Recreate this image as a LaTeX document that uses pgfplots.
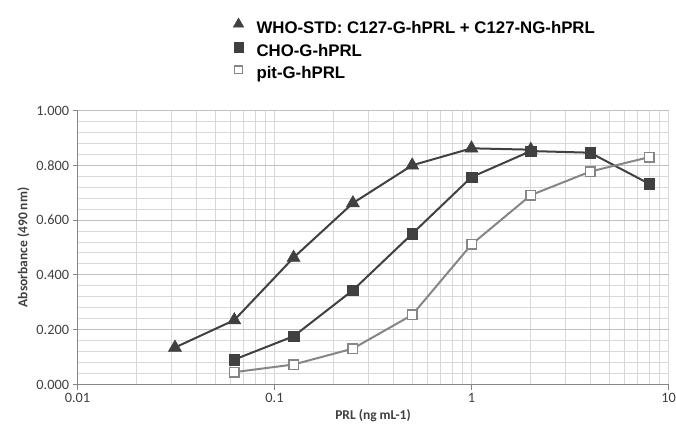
\documentclass[border=0pt]{standalone}
\usepackage{fontspec}
\setmainfont{Carlito}
\newfontfamily\legendfont{Liberation Sans}
\usepackage{pgfplots}
\pgfplotsset{compat=1.18}

\definecolor{darkser}{RGB}{64,64,64}
\definecolor{lightser}{RGB}{134,134,134}
\definecolor{gridmin}{RGB}{217,217,217}
\definecolor{gridmaj}{RGB}{192,192,192}
\definecolor{axisgray}{RGB}{134,134,134}
\definecolor{labelgray}{RGB}{64,64,64}

\begin{document}
\begin{tikzpicture}
\path[use as bounding box] (0,0) rectangle (676pt,431pt);
\begin{axis}[
    at={(77.5pt,46.5pt)}, anchor=south west,
    scale only axis, width=591pt, height=274pt,
    xmode=log, xmin=0.01, xmax=10, ymin=0, ymax=1,
    xtick={0.01,0.1,1,10}, xticklabels={0.01,0.1,1,10},
    ytick={0,0.2,0.4,0.6,0.8,1}, minor y tick num=4,
    /pgf/number format/assume math mode=true,
    yticklabel style={/pgf/number format/.cd, fixed, fixed zerofill, precision=3},
    ticklabel style={font=\fontsize{14.3}{16}\selectfont, text=labelgray},
    grid=both,
    major grid style={color=gridmin, line width=1pt},
    minor grid style={color=gridmin, line width=1pt},
    major y grid style={color=gridmaj, line width=1pt},
    axis lines*=left,
    axis line style={axisgray, line width=1pt, -},
    tick align=outside, major tick length=5pt, minor tick length=0pt,
    tick style={axisgray, line width=1pt},
    xlabel={\textbf{PRL (ng mL-1)}},
    ylabel={\textbf{Absorbance (490 nm)}},
    label style={font=\fontsize{13.5}{15}\selectfont, text=labelgray},
    legend style={at={(axis description cs:0.262,1.338)}, anchor=north west,
        draw=none, fill=none, font=\legendfont\bfseries\fontsize{16.8}{18}\selectfont,
        text=black, row sep=6.5pt, inner sep=0pt,
        nodes={inner sep=0pt, text height=12pt, text depth=3pt}},
    legend cell align=left,
]
\addplot[darkser, line width=2pt, mark=triangle*, mark size=7.5pt,
    mark options={fill=darkser, draw=darkser, line width=0.5pt},
    legend image code/.code={\path[draw=none, fill=none] (0pt,0pt) -- (24pt,0pt);
        \draw[darkser, fill=darkser, mark=triangle*, mark size=6pt, only marks] plot coordinates {(6pt,4.6pt)};}]
coordinates {
    (0.03125,0.135) (0.0625,0.235) (0.125,0.463) (0.25,0.662)
    (0.5,0.800) (1,0.862) (2,0.857)
};
\addlegendentry{WHO-STD: C127-G-hPRL + C127-NG-hPRL}
\addplot[darkser, line width=2pt, mark=square*, mark size=5.25pt,
    mark options={fill=darkser, draw=darkser, line width=0.5pt},
    legend image code/.code={\path[draw=none, fill=none] (0pt,0pt) -- (24pt,0pt);
        \draw[darkser, fill=darkser, mark=square*, mark size=4.6pt, only marks] plot coordinates {(6pt,4.6pt)};}]
coordinates {
    (0.0625,0.091) (0.125,0.176) (0.25,0.344) (0.5,0.550)
    (1,0.757) (2,0.852) (4,0.846) (8,0.732)
};
\addlegendentry{CHO-G-hPRL}
\addplot[lightser, line width=2pt, mark=square*, mark size=4.75pt,
    mark options={fill=white, draw=lightser, line width=1.5pt},
    legend image code/.code={\path[draw=none, fill=none] (0pt,0pt) -- (24pt,0pt);
        \draw[lightser, fill=white, line width=1pt, mark=square*, mark size=3.9pt, only marks] plot coordinates {(6pt,4.6pt)};}]
coordinates {
    (0.0625,0.045) (0.125,0.073) (0.25,0.131) (0.5,0.254)
    (1,0.511) (2,0.691) (4,0.777) (8,0.830)
};
\addlegendentry{pit-G-hPRL}
\end{axis}
\end{tikzpicture}
\end{document}
